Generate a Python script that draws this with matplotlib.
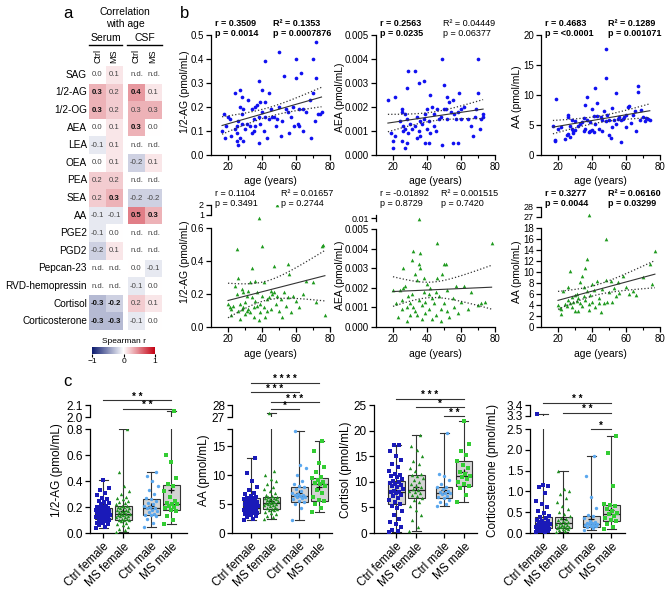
import numpy as np
import matplotlib
matplotlib.use('Agg')
import matplotlib.pyplot as plt
import matplotlib.transforms as mtransforms
from matplotlib.colors import LinearSegmentedColormap, Normalize
from matplotlib.cm import ScalarMappable

plt.rcParams['font.family'] = ['Liberation Sans', 'DejaVu Sans']

# ---------------- data: panel a (Spearman r with age) ----------------
hm_rows = ['SAG', '1/2-AG', '1/2-OG', 'AEA', 'LEA', 'OEA', 'PEA', 'SEA', 'AA', 'PGE2',
           'PGD2', 'Pepcan-23', 'RVD-hemopressin', 'Cortisol', 'Corticosterone']
nd = np.nan
# columns: serum Ctrl, serum MS, CSF Ctrl, CSF MS
hm_vals = [[0.0, 0.1, nd, nd],
           [0.3, 0.2, 0.4, 0.1],
           [0.3, 0.2, 0.3, 0.3],
           [0.0, 0.1, 0.3, 0.0],
           [-0.1, 0.1, nd, nd],
           [0.0, 0.1, -0.2, 0.1],
           [0.2, 0.2, nd, nd],
           [0.2, 0.3, -0.2, -0.2],
           [-0.1, -0.1, 0.5, 0.3],
           [-0.1, 0.0, nd, nd],
           [-0.2, 0.1, nd, nd],
           [nd, nd, 0.0, -0.1],
           [nd, nd, -0.1, 0.0],
           [-0.3, -0.2, 0.2, 0.1],
           [-0.3, -0.3, -0.1, 0.0]]
hm_bold = [(1, 0), (1, 2), (2, 0), (3, 2), (7, 1), (8, 2), (8, 3), (13, 0), (13, 1), (14, 0), (14, 1)]

# ---------------- data: panel b (value vs age) ----------------
aag_s_age = [16.5, 18, 17.5, 19, 20, 21, 22, 24, 24, 25, 25, 25, 26, 26, 27, 27, 27, 28, 28, 28, 29, 29, 30, 31,
             32, 33, 34, 34, 35, 35, 36, 36, 37, 38, 38, 38, 39, 39, 40, 40, 41, 42, 42, 42, 43, 44, 44, 45, 46,
             47, 48, 49, 50, 50, 51, 52, 53, 54, 55, 56, 57, 58, 59, 60, 60, 61, 62, 62, 63, 64, 64, 66, 68, 69,
             70, 70, 71, 72, 72, 73, 74, 75]
aag_s_val = [0.10, 0.07, 0.17, 0.12, 0.16, 0.15, 0.08, 0.26, 0.11, 0.12, 0.09, 0.06, 0.04, 0.14, 0.27, 0.20, 0.07,
             0.17, 0.13, 0.24, 0.19, 0.06, 0.11, 0.13, 0.23, 0.12, 0.19, 0.09, 0.10, 0.15, 0.20, 0.12, 0.21, 0.31,
             0.05, 0.16, 0.22, 0.13, 0.27, 0.18, 0.10, 0.39, 0.22, 0.16, 0.07, 0.15, 0.26, 0.19, 0.16, 0.16, 0.12,
             0.15, 0.43, 0.20, 0.08, 0.14, 0.33, 0.19, 0.18, 0.09, 0.16, 0.20, 0.12, 0.40, 0.32, 0.13, 0.19, 0.12,
             0.34, 0.10, 0.19, 0.18, 0.23, 0.07, 0.40, 0.26, 0.14, 0.32, 0.47, 0.17, 0.17, 0.18]
aea_s_age = [17, 19, 20, 20, 21, 21, 24, 25, 25, 25, 26, 26, 27, 27, 27, 28, 28, 28, 29, 29, 30, 31, 33, 33, 34,
             34, 35, 35, 36, 36, 37, 38, 38, 39, 39, 40, 40, 41, 41, 42, 42, 43, 44, 44, 45, 46, 47, 48, 49, 49,
             50, 50, 51, 52, 52, 53, 54, 55, 55, 56, 57, 58, 58, 59, 60, 60, 62, 64, 66, 67, 68, 69, 70, 70, 71,
             72, 73, 73]
aea_s_val = [0.0023, 0.0009, 0.0003, 0.0006, 0.0024, 0.0008, 0.0014, 0.0018, 0.0019, 0.0006, 0.0012, 0.0010,
             0.0003, 0.0017, 0.0011, 0.0028, 0.0005, 0.0015, 0.0035, 0.0009, 0.0013, 0.0011, 0.0035, 0.0012,
             0.0007, 0.0016, 0.0010, 0.0030, 0.0008, 0.0014, 0.0013, 0.0031, 0.0015, 0.0005, 0.0017, 0.0011,
             0.0019, 0.0005, 0.0014, 0.0025, 0.0009, 0.0020, 0.0012, 0.0017, 0.0010, 0.0019, 0.0015, 0.0016,
             0.0004, 0.0040, 0.0019, 0.0029, 0.0019, 0.0024, 0.0015, 0.0022, 0.0018, 0.0005, 0.0023, 0.0017,
             0.0015, 0.0018, 0.0005, 0.0026, 0.0019, 0.0015, 0.0020, 0.0015, 0.0012, 0.0008, 0.0016, 0.0019,
             0.0040, 0.0026, 0.0011, 0.0015, 0.0016, 0.0017]
aa_s_age = [17, 18, 18, 19, 20, 22, 24, 25, 26, 26, 26, 27, 27, 28, 28, 29, 29, 30, 30, 32, 33, 34, 35, 35, 36,
            36, 37, 37, 38, 39, 39, 40, 40, 41, 41, 42, 42, 43, 43, 44, 45, 46, 46, 47, 48, 48, 48, 49, 50, 50,
            51, 52, 52, 53, 54, 54, 55, 56, 57, 57, 58, 59, 60, 60, 61, 62, 63, 64, 65, 66, 67, 67, 68, 69, 70,
            71, 72, 73, 74]
aa_s_val = [4.9, 2.5, 2.4, 9.4, 4.4, 4.6, 2.7, 3.4, 6.7, 6.4, 3.5, 4.8, 3.0, 5.9, 4.3, 4.0, 3.6, 5.7, 4.1, 4.9,
            5.2, 5.5, 4.0, 6.1, 8.4, 4.3, 9.7, 5.8, 3.9, 4.0, 5.5, 7.6, 4.2, 6.5, 3.8, 11.2, 5.2, 8.7, 6.5, 4.4,
            6.3, 4.0, 5.8, 7.3, 17.6, 12.8, 5.6, 6.7, 3.3, 5.8, 2.9, 7.8, 4.7, 5.9, 10.3, 5.2, 6.0, 6.4, 2.2, 5.9,
            6.0, 6.3, 4.6, 6.6, 8.0, 8.1, 5.3, 6.7, 7.3, 4.0, 11.5, 10.5, 5.9, 7.5, 6.4, 5.6, 6.1, 6.0, 5.8]
aag_c_age = [20, 21, 22, 22, 23, 24, 25, 25, 26, 26, 27, 27, 28, 28, 29, 29, 30, 30, 31, 31, 32, 32, 33, 33, 34,
             34, 35, 35, 36, 36, 37, 37, 38, 38, 39, 39, 40, 40, 41, 41, 42, 43, 43, 44, 45, 45, 46, 47, 47, 48,
             49, 49, 50, 51, 52, 53, 54, 55, 55, 56, 57, 58, 60, 62, 64, 66, 70, 72, 75, 76, 77]
aag_c_val = [0.14, 0.12, 0.11, 0.07, 0.13, 0.25, 0.47, 0.20, 0.30, 0.10, 0.14, 0.05, 0.23, 0.11, 0.21, 0.12, 0.15,
             0.08, 0.10, 0.19, 0.22, 0.11, 0.09, 0.27, 0.36, 0.18, 0.12, 0.06, 0.28, 0.16, 0.13, 0.21, 0.66, 0.04,
             0.14, 0.09, 0.49, 0.19, 0.27, 0.12, 0.06, 0.17, 0.10, 0.18, 0.11, 0.22, 0.20, 0.37, 0.21, 0.14, 2.0,
             0.19, 0.10, 0.17, 0.06, 0.21, 0.13, 0.38, 0.18, 0.32, 0.09, 0.19, 0.16, 0.12, 0.20, 0.28, 0.27, 0.15,
             0.49, 0.50, 0.07]
aea_c_age = [20, 22, 23, 24, 25, 25, 26, 26, 27, 28, 28, 29, 30, 30, 31, 31, 32, 32, 33, 33, 34, 34, 35, 35, 35,
             36, 36, 37, 37, 38, 38, 39, 39, 40, 41, 41, 42, 43, 43, 44, 45, 45, 46, 46, 47, 47, 48, 48, 49, 50,
             50, 51, 52, 52, 53, 55, 56, 57, 58, 60, 62, 64, 66, 70, 72, 74, 78]
aea_c_val = [0.0019, 0.0012, 0.0005, 0.0019, 0.0014, 0.0009, 0.0020, 0.0030, 0.0021, 0.0010, 0.0003, 0.0016,
             0.0012, 0.0006, 0.0034, 0.0017, 0.0039, 0.0010, 0.0027, 0.0008, 0.0024, 0.0006, 0.0032, 0.0014,
             0.0055, 0.0038, 0.0030, 0.0011, 0.0004, 0.0025, 0.0018, 0.0013, 0.0007, 0.0022, 0.0017, 0.0009,
             0.0020, 0.0015, 0.0004, 0.0012, 0.0018, 0.0006, 0.0043, 0.0025, 0.0114, 0.0016, 0.0009, 0.0003,
             0.0027, 0.0032, 0.0012, 0.0032, 0.0008, 0.0019, 0.0005, 0.0015, 0.0010, 0.0021, 0.0007, 0.0013,
             0.0021, 0.0009, 0.0018, 0.0011, 0.0012, 0.0013, 0.0043]
aa_c_age = [20, 21, 22, 22, 23, 24, 25, 26, 26, 27, 27, 28, 28, 29, 30, 30, 31, 31, 32, 32, 33, 33, 34, 34, 35,
            35, 36, 36, 37, 37, 38, 38, 38, 39, 40, 40, 41, 42, 43, 44, 44, 45, 46, 47, 48, 48, 49, 50, 51, 52,
            53, 54, 55, 56, 58, 60, 62, 64, 66, 70, 74, 75, 77]
aa_c_val = [4.0, 3.5, 3.2, 2.4, 6.5, 4.1, 3.8, 7.3, 5.0, 10.1, 4.3, 5.5, 3.6, 4.5, 3.0, 5.8, 6.0, 4.8, 2.9, 5.2,
            8.2, 4.4, 9.2, 3.8, 7.2, 5.6, 10.7, 4.9, 12.4, 6.6, 27.2, 4.2, 3.1, 5.9, 7.9, 4.6, 6.8, 3.6, 8.4,
            5.3, 4.4, 2.8, 7.0, 4.3, 16.0, 8.5, 4.6, 6.4, 8.4, 4.5, 7.1, 5.6, 8.1, 6.1, 9.3, 7.2, 6.0, 6.5, 5.8,
            9.1, 11.5, 7.8, 13.9]

# ---------------- data: panel c (groups) ----------------
groups = ['Ctrl female', 'MS female', 'Ctrl male', 'MS male']
# 1/2-AG
aag_cf = [0.04, 0.05, 0.06, 0.07, 0.08, 0.08, 0.09, 0.09, 0.10, 0.10, 0.11, 0.11, 0.11, 0.12, 0.12, 0.12, 0.13,
          0.13, 0.13, 0.14, 0.14, 0.14, 0.15, 0.15, 0.15, 0.15, 0.16, 0.16, 0.16, 0.17, 0.17, 0.17, 0.18, 0.18,
          0.18, 0.19, 0.19, 0.19, 0.20, 0.20, 0.21, 0.22, 0.23, 0.24, 0.25, 0.26, 0.27, 0.29, 0.31, 0.33, 0.35, 0.41]
aag_mf = [0.01, 0.02, 0.03, 0.05, 0.06, 0.07, 0.08, 0.09, 0.10, 0.10, 0.10, 0.11, 0.11, 0.12, 0.12, 0.13, 0.13,
          0.14, 0.14, 0.15, 0.15, 0.15, 0.16, 0.16, 0.17, 0.17, 0.18, 0.18, 0.19, 0.19, 0.20, 0.20, 0.21, 0.21,
          0.22, 0.23, 0.24, 0.25, 0.26, 0.27, 0.28, 0.30, 0.32, 0.36, 0.47, 0.80]
aag_cm = [0.05, 0.08, 0.11, 0.13, 0.14, 0.14, 0.15, 0.16, 0.17, 0.18, 0.19, 0.19, 0.20, 0.21, 0.22, 0.23, 0.25,
          0.26, 0.27, 0.30, 0.33, 0.36, 0.40, 0.44, 0.47]
aag_mm = [0.07, 0.10, 0.13, 0.17, 0.18, 0.19, 0.20, 0.21, 0.22, 0.22, 0.23, 0.25, 0.28, 0.32, 0.36, 0.38, 0.42,
          0.55, 0.60, 2.05]
aag_box = dict(lo=[0.035, 0.01, 0.05, 0.07], q1=[0.11, 0.10, 0.135, 0.18], med=[0.15, 0.15, 0.19, 0.22],
               q3=[0.19, 0.21, 0.26, 0.37], hi=[0.41, 0.80, 0.47, 2.05], mean=[0.16, 0.17, 0.21, 0.33])
# AA
aa_cf = [2.2, 2.5, 2.8, 3.0, 3.1, 3.3, 3.4, 3.5, 3.5, 3.6, 3.7, 3.8, 3.9, 4.0, 4.0, 4.1, 4.2, 4.3, 4.3, 4.4, 4.5,
         4.6, 4.7, 4.8, 4.9, 5.0, 5.1, 5.2, 5.3, 5.4, 5.5, 5.6, 5.7, 5.8, 5.9, 6.0, 6.1, 6.2, 6.4, 6.7, 7.0, 7.5,
         8.0, 9.0, 10.3, 12.9]
aa_mf = [2.5, 2.7, 3.0, 3.3, 3.5, 3.7, 3.9, 4.0, 4.1, 4.2, 4.4, 4.5, 4.6, 4.8, 4.9, 5.0, 5.1, 5.2, 5.2, 5.3, 5.4,
         5.5, 5.6, 5.7, 5.8, 5.9, 6.0, 6.1, 6.2, 6.3, 6.4, 6.6, 6.9, 7.2, 7.6, 8.0, 8.5, 9.0, 9.4, 10.1, 10.8, 27.3]
aa_cm = [2.3, 4.3, 5.0, 5.4, 5.5, 5.8, 6.0, 6.2, 6.3, 6.4, 6.5, 6.6, 6.8, 7.0, 7.3, 7.6, 7.9, 8.2, 8.5, 9.0, 10.0,
         11.3, 11.7, 17.6]
aa_mm = [3.6, 4.3, 5.0, 5.5, 5.7, 6.2, 7.0, 7.5, 8.2, 8.4, 8.6, 8.8, 9.2, 9.5, 9.7, 10.5, 11.5, 12.2, 14.2, 16.0]
aa_box = dict(lo=[2.2, 2.5, 2.3, 3.6], q1=[3.4, 4.1, 5.3, 5.5], med=[4.3, 5.2, 6.4, 8.4],
              q3=[6.0, 6.2, 7.9, 9.5], hi=[12.9, 27.3, 17.6, 15.9], mean=[4.9, 5.6, 6.9, 8.0])
# Cortisol
cort_cf = [0.2, 0.3, 0.5, 1.2, 1.7, 2.2, 2.8, 3.5, 4.3, 4.9, 5.3, 5.7, 6.0, 6.4, 6.8, 7.2, 7.5, 7.8, 8.0, 8.1, 8.3,
           8.6, 8.9, 9.1, 9.4, 9.6, 9.8, 10.0, 10.2, 10.5, 10.9, 11.1, 11.3, 11.6, 12.1, 12.9, 13.5, 14.3, 15.0,
           16.0, 17.1, 17.1]
cort_mf = [0.3, 1.2, 2.6, 3.6, 4.4, 5.3, 6.0, 6.5, 6.9, 7.2, 7.5, 7.8, 8.1, 8.3, 8.4, 8.6, 8.9, 9.2, 9.6, 10.0,
           10.4, 10.8, 11.1, 11.3, 11.5, 12.1, 12.7, 13.4, 14.1, 15.0, 16.2, 17.0, 19.2]
cort_cm = [5.2, 5.6, 6.0, 6.5, 6.9, 7.1, 7.3, 7.6, 7.8, 7.9, 8.1, 8.3, 8.6, 8.9, 9.0, 9.5, 10.3, 11.2, 11.5, 19.6]
cort_mm = [6.1, 7.4, 8.7, 9.2, 9.5, 10.0, 10.6, 11.0, 11.2, 11.5, 12.0, 12.6, 13.3, 14.1, 15.2, 16.0, 17.3, 21.9]
cort_box = dict(lo=[0.2, 0.3, 5.2, 6.1], q1=[5.7, 6.9, 6.9, 9.2], med=[8.0, 8.4, 7.8, 11.2],
                q3=[10.2, 11.4, 9.0, 14.1], hi=[17.1, 19.2, 19.6, 21.9], mean=[8.0, 9.0, 8.4, 11.9])
# Corticosterone
cs_cf = [0.02, 0.03, 0.04, 0.05, 0.06, 0.07, 0.08, 0.09, 0.10, 0.11, 0.12, 0.12, 0.13, 0.14, 0.15, 0.16, 0.17,
         0.18, 0.19, 0.20, 0.21, 0.22, 0.24, 0.26, 0.28, 0.30, 0.32, 0.35, 0.38, 0.42, 0.47, 0.53, 0.62, 0.70,
         0.78, 0.95, 1.10, 1.13, 1.15, 3.32]
cs_mf = [0.03, 0.05, 0.07, 0.09, 0.10, 0.12, 0.13, 0.14, 0.15, 0.17, 0.18, 0.19, 0.20, 0.21, 0.23, 0.25, 0.27,
         0.29, 0.31, 0.34, 0.37, 0.40, 0.45, 0.50, 0.58, 0.65, 0.75, 0.85, 0.93, 1.00, 1.05, 1.49]
cs_cm = [0.07, 0.12, 0.15, 0.17, 0.18, 0.19, 0.20, 0.21, 0.22, 0.23, 0.25, 0.27, 0.30, 0.35, 0.40, 0.44, 0.60,
         0.87, 1.37, 1.84]
cs_mm = [0.10, 0.14, 0.22, 0.28, 0.32, 0.37, 0.42, 0.45, 0.47, 0.52, 0.58, 0.64, 0.68, 0.70, 1.12, 1.92, 2.34]
cs_box = dict(lo=[0.02, 0.03, 0.07, 0.10], q1=[0.12, 0.12, 0.15, 0.29], med=[0.20, 0.23, 0.22, 0.46],
              q3=[0.38, 0.38, 0.40, 0.68], hi=[3.32, 1.49, 1.84, 2.34], mean=[0.30, 0.33, 0.34, 0.55])

# ---------------- layout helpers ----------------
W, H = 669, 590
fig = plt.figure(figsize=(W / 100, H / 100), dpi=100)


def rect(l, t, r, b):
    return [l / W, 1 - b / H, (r - l) / W, (b - t) / H]


def ftext(x, y, s, **kw):
    fig.text(x / W, 1 - y / H, s, **kw)


def style(ax, fs, left_only=False):
    for s in ['top', 'right']:
        ax.spines[s].set_visible(False)
    if left_only:
        ax.spines['bottom'].set_visible(False)
        ax.set_xticks([])
    for s in ['left', 'bottom']:
        ax.spines[s].set_linewidth(0.9)
    ax.tick_params(direction='out', length=3.5, width=0.9, labelsize=fs, pad=1.5)
    ax.tick_params(which='minor', length=2, width=0.8)
    ax.patch.set_alpha(0)


# ---------------- panel a: heatmap ----------------
ftext(68, 14, 'a', fontsize=12, ha='center', va='center')
ftext(125, 12, 'Correlation', fontsize=7.5, ha='center', va='center')
ftext(125, 24, 'with age', fontsize=7.5, ha='center', va='center')
ftext(106, 38, 'Serum', fontsize=7.5, ha='center', va='center')
ftext(145, 38, 'CSF', fontsize=7.5, ha='center', va='center')
fig.add_artist(plt.Line2D([89 / W, 122 / W], [1 - 45 / H] * 2, color='k', lw=1))
fig.add_artist(plt.Line2D([127 / W, 162 / W], [1 - 45 / H] * 2, color='k', lw=1))
for xx, lab in zip([98, 114, 136, 153], ['Ctrl', 'MS', 'Ctrl', 'MS']):
    ftext(xx, 63, lab, fontsize=6.5, rotation=90, ha='center', va='bottom')

cmap = LinearSegmentedColormap.from_list('spear', ['#0b1a6e', '#ffffff', '#c40012'])
hax = fig.add_axes(rect(89, 66, 162, 330))
grid = np.full((len(hm_rows), 5), np.nan)
grid[:, [0, 1, 3, 4]] = np.array(hm_vals, dtype=float)
hax.pcolormesh([0, 1, 2, 2.3, 3.3, 4.3], np.arange(len(hm_rows) + 1), np.ma.masked_invalid(grid),
               cmap=cmap, vmin=-1, vmax=1)
hax.set_xlim(0, 4.3)
hax.set_ylim(len(hm_rows), 0)
hax.axis('off')
col_x = [0.5, 1.5, 2.8, 3.8]
for i, name in enumerate(hm_rows):
    hax.text(-0.12, i + 0.5, name, ha='right', va='center', fontsize=7.2)
    for j in range(4):
        v = hm_vals[i][j]
        if np.isnan(v):
            txt = 'n.d.'
        else:
            txt = '%.1f' % v
            if txt == '-0.0':
                txt = '0.0'
        bold = (i, j) in hm_bold
        hax.text(col_x[j], i + 0.5, txt, ha='center', va='center', fontsize=5.6,
                 fontweight='bold' if bold else 'normal', color='#111' if bold else '#444')

cax = fig.add_axes(rect(92, 347, 155, 354))
cb = fig.colorbar(ScalarMappable(Normalize(-1, 1), cmap), cax=cax, orientation='horizontal', ticks=[-1, 0, 1])
cb.outline.set_visible(False)
cb.ax.tick_params(labelsize=6, length=2, pad=1)
cax.set_title('Spearman r', fontsize=6, pad=3)


# ---------------- panel b: scatter vs age ----------------
def fit_lines(ax, x, y):
    x = np.asarray(x, float)
    y = np.asarray(y, float)
    b, a = np.polyfit(x, y, 1)
    xs = np.linspace(x.min(), x.max(), 100)
    n = len(x)
    s = np.sqrt(np.sum((y - (a + b * x)) ** 2) / (n - 2))
    ci = 1.99 * s * np.sqrt(1 / n + (xs - x.mean()) ** 2 / np.sum((x - x.mean()) ** 2))
    ax.plot(xs, a + b * xs, color='#333333', lw=0.8, zorder=4)
    ax.plot(xs, a + b * xs + ci, ':', color='#333333', lw=0.9, zorder=4)
    ax.plot(xs, a + b * xs - ci, ':', color='#333333', lw=0.9, zorder=4)


def scatter_ax(l, t, r, b, ages, vals, color, marker, ylim, yticks, ylabels):
    ax = fig.add_axes(rect(l, t, r, b))
    ages = np.asarray(ages)
    vals = np.asarray(vals)
    keep = vals <= ylim[1] * 1.15
    ax.scatter(ages[keep], vals[keep], s=7, color=color, marker=marker, linewidths=0, zorder=3, clip_on=False)
    fit_lines(ax, ages, vals)
    ax.set_xlim(10, 80)
    ax.set_ylim(*ylim)
    ax.set_xticks([20, 40, 60, 80])
    ax.set_xticks([30, 50, 70], minor=True)
    ax.set_yticks(yticks, ylabels)
    style(ax, 7)
    return ax


def scatter_upper(l, t, r, b, ages, vals, color, marker, ylim, yticks, ylabels):
    ax = fig.add_axes(rect(l, t, r, b))
    ax.scatter(ages, vals, s=7, color=color, marker=marker, linewidths=0, zorder=3)
    ax.set_xlim(10, 80)
    ax.set_ylim(*ylim)
    ax.set_yticks(yticks, ylabels)
    style(ax, 6.5, left_only=True)
    return ax


def stat_text(x, y, lines, bold):
    for k, s in enumerate(lines):
        ftext(x, y + k * 10, s, fontsize=6.5, fontweight='bold' if bold else 'normal', va='center', ha='left')


blue = '#1010f0'
green = '#1f9a1f'
ftext(185, 13, 'b', fontsize=12, ha='center', va='center')

scatter_ax(211, 35, 330, 155, aag_s_age, aag_s_val, blue, 'o', (0, 0.5),
           [0, 0.1, 0.2, 0.3, 0.4, 0.5], ['0.0', '0.1', '0.2', '0.3', '0.4', '0.5'])
scatter_ax(376, 35, 495, 155, aea_s_age, aea_s_val, blue, 'o', (0, 0.005),
           [0, 0.001, 0.002, 0.003, 0.004, 0.005], ['0.000', '0.001', '0.002', '0.003', '0.004', '0.005'])
scatter_ax(541, 35, 660, 155, aa_s_age, aa_s_val, blue, 'o', (0, 20),
           [0, 5, 10, 15, 20], ['0', '5', '10', '15', '20'])

scatter_ax(211, 228, 330, 327, aag_c_age, aag_c_val, green, '^', (0, 0.6),
           [0, 0.2, 0.4, 0.6], ['0.0', '0.2', '0.4', '0.6'])
scatter_upper(211, 205, 330, 215, aag_c_age, aag_c_val, green, '^', (1, 2), [1, 2], ['1', '2'])
scatter_ax(376, 229, 495, 327, aea_c_age, aea_c_val, green, '^', (0, 0.005),
           [0, 0.001, 0.002, 0.003, 0.004, 0.005], ['0.000', '0.001', '0.002', '0.003', '0.004', '0.005'])
scatter_upper(376, 215, 495, 221, aea_c_age, aea_c_val, green, '^', (0.0095, 0.0105), [0.01], ['0.01'])
scatter_ax(541, 228, 660, 327, aa_c_age, aa_c_val, green, '^', (0, 18),
           [0, 2, 4, 6, 8, 10, 12, 14, 16, 18], ['0', '2', '4', '6', '8', '10', '12', '14', '16', '18'])
scatter_upper(541, 207, 660, 217, aa_c_age, aa_c_val, green, '^', (27, 28), [27, 28], ['27', '28'])

for xc, yy in [(270, 181), (435, 181), (600, 181), (270, 354), (435, 354), (600, 354)]:
    ftext(xc, yy, 'age (years)', fontsize=7.5, ha='center', va='center')
for xc, yc, lab in [(185, 92, '1/2-AG (pmol/mL)'), (340, 97, 'AEA (pmol/mL)'), (517, 97, 'AA (pmol/mL)'),
                    (185, 262, '1/2-AG (pmol/mL)'), (340, 275, 'AEA (pmol/mL)'), (517, 272, 'AA (pmol/mL)')]:
    ftext(xc, yc, lab, fontsize=7.5, rotation=90, ha='center', va='center')

stat_text(215, 23, ['r = 0.3509', 'p = 0.0014'], True)
stat_text(273, 23, ['R² = 0.1353', 'p = 0.0007876'], True)
stat_text(380, 23, ['r = 0.2563', 'p = 0.0235'], True)
stat_text(443, 23, ['R² = 0.04449', 'p = 0.06377'], False)
stat_text(545, 23, ['r = 0.4683', 'p = <0.0001'], True)
stat_text(608, 23, ['R² = 0.1289', 'p = 0.001071'], True)
stat_text(215, 193, ['r = 0.1104', 'p = 0.3491'], False)
stat_text(281, 193, ['R² = 0.01657', 'p = 0.2744'], False)
stat_text(380, 193, ['r = -0.01892', 'p = 0.8729'], False)
stat_text(441, 193, ['R² = 0.001515', 'p = 0.7420'], False)
stat_text(545, 193, ['r = 0.3277', 'p = 0.0044'], True)
stat_text(608, 193, ['R² = 0.06160', 'p = 0.03299'], True)

# ---------------- panel c: box plots ----------------
POS = [0, 1, 2.4, 3.4]
g_colors = ['#1a1ab8', '#1f8f1f', '#5aa7ee', '#33cc33']
g_markers = ['s', '^', 'o', 's']


def draw_boxes(ax, box, data):
    stats = []
    for k in range(4):
        stats.append(dict(whislo=box['lo'][k], q1=box['q1'][k], med=box['med'][k], q3=box['q3'][k],
                          whishi=box['hi'][k], mean=box['mean'][k], fliers=[]))
    ax.bxp(stats, positions=POS, widths=0.85, showmeans=True, patch_artist=True, showfliers=False,
           capwidths=0.45,
           boxprops=dict(facecolor='#d4d4d4', edgecolor='#333333', linewidth=0.8),
           medianprops=dict(color='#222222', linewidth=0.9),
           whiskerprops=dict(color='#333333', linewidth=0.8),
           capprops=dict(color='#333333', linewidth=0.8),
           meanprops=dict(marker='+', markeredgecolor='#111111', markersize=5, markeredgewidth=0.9))
    for k, vals in enumerate(data):
        vals = np.sort(np.asarray(vals))
        offs = ((np.arange(len(vals)) * 0.618034) % 1 - 0.5) * 0.7
        ax.scatter(POS[k] + offs, vals, s=6, marker=g_markers[k], color=g_colors[k], linewidths=0, zorder=5)


def box_panel(l, r, xlim, low, upper, box, data, ylabel, ylab_x, sigs):
    lt, lb, ylim, ticks, labels = low
    ax = fig.add_axes(rect(l, lt, r, lb))
    draw_boxes(ax, box, data)
    ax.set_xlim(*xlim)
    ax.set_ylim(*ylim)
    ax.set_yticks(ticks, labels)
    ax.set_xticks(POS, groups, rotation=45, ha='right', rotation_mode='anchor')
    style(ax, 8.5)
    ax.tick_params(axis='x', labelsize=8.5, pad=2)
    if upper is not None:
        ut, ub, uylim, uticks, ulabels = upper
        axu = fig.add_axes(rect(l, ut, r, ub))
        draw_boxes(axu, box, data)
        axu.set_xlim(*xlim)
        axu.set_ylim(*uylim)
        axu.set_yticks(uticks, ulabels)
        style(axu, 8.5, left_only=True)
    ftext(ylab_x, 470, ylabel, fontsize=8.5, rotation=90, ha='center', va='center')
    tr = mtransforms.blended_transform_factory(ax.transData, fig.transFigure)
    for g1, g2, ypx, stars in sigs:
        yy = 1 - ypx / H
        ax.plot([POS[g1], POS[g2]], [yy, yy], transform=tr, color='#333333', lw=0.8, clip_on=False)
        ax.text((POS[g1] + POS[g2]) / 2, yy + 0.5 / H, ' '.join(stars), transform=tr, ha='center',
                va='baseline', fontsize=7, fontweight='bold')
    return ax


ftext(67, 382, 'c', fontsize=12, ha='center', va='center')
box_panel(90, 187, (-0.65, 4.2),
          (429, 533, (0, 0.8), [0, 0.2, 0.4, 0.6, 0.8], ['0.0', '0.2', '0.4', '0.6', '0.8']),
          (405, 417, (2.0, 2.1), [2.0, 2.1], ['2.0', '2.1']),
          aag_box, [aag_cf, aag_mf, aag_cm, aag_mm], '1/2-AG (pmol/mL)', 57,
          [(0, 3, 400, '**'), (1, 3, 409, '**')])
box_panel(232, 332, (-0.95, 4.05),
          (429, 533, (0, 18), [0, 5, 10, 15, 18], ['0', '5', '10', '15', '']),
          (405, 417, (27, 28), [27, 28], ['27', '28']),
          aa_box, [aa_cf, aa_mf, aa_cm, aa_mm], 'AA (pmol/mL)', 204,
          [(0, 3, 383, '****'), (0, 2, 392, '***'), (1, 3, 402, '***'), (1, 2, 409, '*')])
box_panel(374, 477, (-1.1, 4.05),
          (405, 533, (0, 25), [0, 5, 10, 15, 20, 25], ['0', '5', '10', '15', '20', '25']),
          None,
          cort_box, [cort_cf, cort_mf, cort_cm, cort_mm], 'Cortisol (pmol/mL)', 346,
          [(0, 3, 399, '***'), (1, 3, 407, '*'), (2, 3, 416, '**')])
box_panel(530, 625, (-0.65, 4.1),
          (429, 533, (0, 2.5), [0, 0.5, 1.0, 1.5, 2.0, 2.5], ['0.0', '0.5', '1.0', '1.5', '2.0', '2.5']),
          (405, 416, (3.3, 3.4), [3.3, 3.4], ['3.3', '3.4']),
          cs_box, [cs_cf, cs_mf, cs_cm, cs_mm], 'Corticosterone (pmol/mL)', 493,
          [(0, 3, 403, '**'), (1, 3, 413, '**'), (2, 3, 429, '*')])

fig.savefig('out.png', dpi=100)
